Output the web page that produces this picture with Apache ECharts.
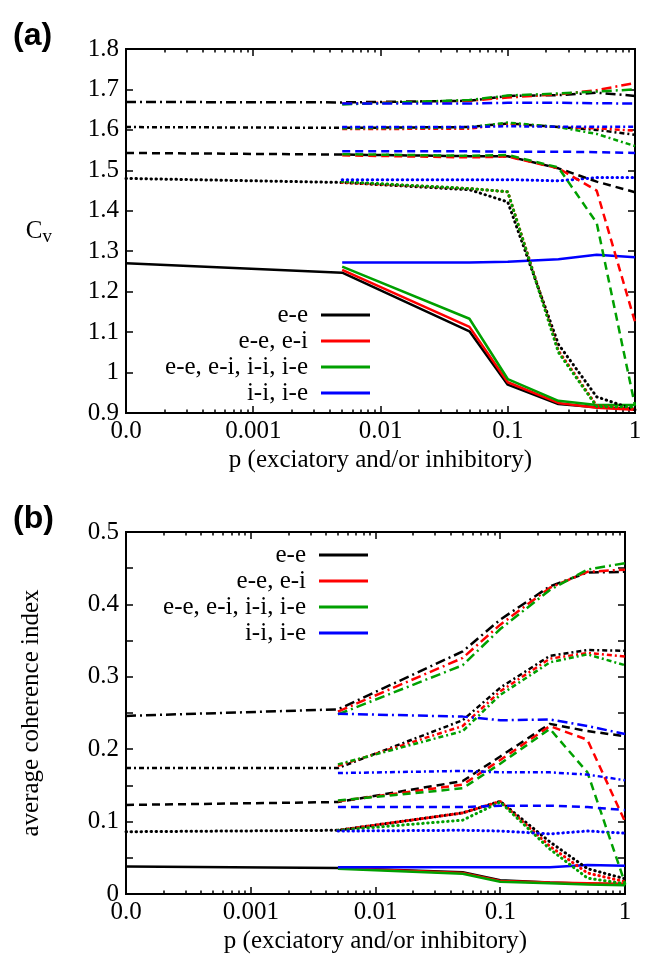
<!DOCTYPE html>
<html>
<head>
<meta charset="utf-8">
<script src="https://cdn.jsdelivr.net/npm/echarts@6/dist/echarts.min.js"></script>
<style>
  html, body { margin: 0; padding: 0; background: #fff; }
  #chart { width: 645px; height: 955px; }
</style>
</head>
<body>
<div id="chart"></div>
<script>
// p values; the first one (1e-4) is the p = 0 point that sits under the "0.0" label
var pPoints = [1e-4, 0.005, 0.05, 0.1, 0.25, 0.5, 1];
var xTickValues = [1e-4, 1e-3, 1e-2, 1e-1, 1];
var legendNames = ['e-e', 'e-e, e-i', 'e-e, e-i, i-i, i-e', 'i-i, i-e'];
var lineColors = ['#000000', '#ff0000', '#00a000', '#0000ff'];

// each block: rows in legend order (e-e / e-e,e-i / all four / i-i,i-e)
// (a) coefficient of variation
var cvSolid = [
  [1.270, 1.247, 1.102, 0.970, 0.922, 0.914, 0.910],
  [null, 1.254, 1.113, 0.976, 0.925, 0.913, 0.908],
  [null, 1.262, 1.133, 0.984, 0.930, 0.920, 0.920],
  [null, 1.272, 1.272, 1.274, 1.280, 1.291, 1.285]
];
var cvDotted = [
  [1.480, 1.470, 1.452, 1.422, 1.070, 0.940, 0.908],
  [null, 1.470, 1.455, 1.447, 1.054, 0.918, 0.910],
  [null, 1.472, 1.455, 1.447, 1.050, 0.916, 0.915],
  [null, 1.477, 1.477, 1.477, 1.474, 1.482, 1.482]
];
var cvDashed = [
  [1.543, 1.539, 1.535, 1.535, 1.505, 1.472, 1.446],
  [null, 1.537, 1.532, 1.534, 1.505, 1.450, 1.125],
  [null, 1.540, 1.536, 1.538, 1.507, 1.370, 0.918],
  [null, 1.547, 1.547, 1.546, 1.546, 1.545, 1.543]
];
var cvDashDot = [
  [1.607, 1.605, 1.607, 1.616, 1.607, 1.600, 1.588],
  [null, 1.602, 1.603, 1.615, 1.607, 1.604, 1.598],
  [null, 1.604, 1.606, 1.618, 1.607, 1.590, 1.560],
  [null, 1.607, 1.607, 1.609, 1.608, 1.608, 1.608]
];
var cvLongDashDot = [
  [1.669, 1.668, 1.672, 1.684, 1.686, 1.692, 1.684],
  [null, 1.665, 1.672, 1.680, 1.688, 1.698, 1.716],
  [null, 1.663, 1.674, 1.685, 1.690, 1.695, 1.700],
  [null, 1.665, 1.665, 1.667, 1.667, 1.666, 1.665]
];

// (b) average coherence index
var chSolid = [
  [0.038, 0.036, 0.030, 0.019, 0.016, 0.014, 0.013],
  [null, 0.036, 0.029, 0.018, 0.016, 0.015, 0.014],
  [null, 0.035, 0.028, 0.017, 0.015, 0.013, 0.012],
  [null, 0.037, 0.037, 0.037, 0.037, 0.040, 0.039]
];
var chDotted = [
  [0.086, 0.088, 0.112, 0.128, 0.072, 0.035, 0.021],
  [null, 0.088, 0.112, 0.128, 0.066, 0.029, 0.017],
  [null, 0.088, 0.102, 0.127, 0.062, 0.022, 0.014],
  [null, 0.087, 0.088, 0.087, 0.083, 0.087, 0.084]
];
var chDashed = [
  [0.123, 0.127, 0.156, 0.190, 0.235, 0.225, 0.218],
  [null, 0.128, 0.151, 0.185, 0.232, 0.213, 0.100],
  [null, 0.129, 0.146, 0.180, 0.228, 0.168, 0.015],
  [null, 0.120, 0.120, 0.122, 0.122, 0.120, 0.116]
];
var chDashDot = [
  [0.174, 0.174, 0.240, 0.285, 0.329, 0.337, 0.336],
  [null, 0.177, 0.232, 0.280, 0.325, 0.333, 0.328],
  [null, 0.179, 0.225, 0.275, 0.320, 0.331, 0.316],
  [null, 0.167, 0.170, 0.168, 0.168, 0.165, 0.157]
];
var chLongDashDot = [
  [0.246, 0.255, 0.335, 0.379, 0.425, 0.444, 0.445],
  [null, 0.252, 0.326, 0.372, 0.423, 0.445, 0.448],
  [null, 0.248, 0.316, 0.366, 0.420, 0.448, 0.457],
  [null, 0.249, 0.245, 0.240, 0.241, 0.232, 0.221]
];

var dashTypes = {
  solid: { type: 'solid', cap: 'butt', width: 2.5 },
  dotted: { type: [0.5, 4.5], cap: 'round', width: 3 },
  dashed: { type: [8, 5], cap: 'butt', width: 2.5 },
  dashDot: { type: [5, 3, 2, 3], cap: 'butt', width: 2.5 },
  longDashDot: { type: [10, 4, 2, 4], cap: 'butt', width: 2.5 }
};

var serif = 'Liberation Serif';
var black = '#000';

// minor ticks 2..9 in every decade
var xMinorTicks = [];
for (var d = -4; d < 0; d++) {
  for (var m = 2; m < 10; m++) xMinorTicks.push(+(m * Math.pow(10, d)).toPrecision(3));
}

function xAxes(gi) {
  var base = {
    type: 'log', logBase: 10, min: 1e-4, max: 1, gridIndex: gi,
    splitLine: { show: false },
    axisLine: { show: true, lineStyle: { color: black, width: 2 } }
  };
  var tick = function (vals, len) {
    return { show: true, inside: true, length: len, customValues: vals, lineStyle: { color: black, width: 1.5 } };
  };
  return [
    Object.assign({}, base, {
      position: 'bottom',
      name: 'p (exciatory and/or inhibitory)',
      nameLocation: 'middle', nameGap: 35,
      nameTextStyle: { fontFamily: serif, fontSize: 25, color: black },
      axisTick: tick(xTickValues, 7),
      axisLabel: {
        customValues: xTickValues, margin: 6,
        fontFamily: serif, fontSize: 25, color: black,
        formatter: function (v) { return v < 5e-4 ? '0.0' : String(+v.toPrecision(3)); }
      }
    }),
    Object.assign({}, base, { position: 'bottom', axisTick: tick(xMinorTicks, 3.5), axisLabel: { show: false } }),
    Object.assign({}, base, { position: 'top', axisTick: tick(xTickValues, 7), axisLabel: { show: false } }),
    Object.assign({}, base, { position: 'top', axisTick: tick(xMinorTicks, 3.5), axisLabel: { show: false } })
  ];
}

function yAxes(gi, min, max, interval, labelFmt, nameOpts) {
  var base = {
    type: 'value', gridIndex: gi, min: min, max: max, interval: interval,
    splitLine: { show: false },
    axisLine: { show: true, lineStyle: { color: black, width: 2 } },
    axisTick: { show: true, inside: true, length: 7, lineStyle: { color: black, width: 1.5 } }
  };
  return [
    Object.assign({}, base, {
      position: 'left',
      axisLabel: { margin: 7, fontFamily: serif, fontSize: 25, color: black, formatter: labelFmt }
    }, nameOpts),
    Object.assign({}, base, { position: 'right', axisLabel: { show: false } })
  ];
}

function buildSeries(gi, blocks) {
  var out = [];
  blocks.forEach(function (blk) {
    var st = dashTypes[blk.style];
    blk.rows.forEach(function (vals, c) {
      var data = [];
      vals.forEach(function (v, k) { if (v !== null) data.push([pPoints[k], v]); });
      out.push({
        type: 'line',
        name: blk.style === 'solid' ? legendNames[c] : legendNames[c] + ' (' + blk.style + ')',
        xAxisIndex: gi * 4, yAxisIndex: gi * 2,
        data: data,
        symbol: 'none',
        lineStyle: { color: lineColors[c], width: st.width, type: st.type, cap: st.cap },
        itemStyle: { color: lineColors[c] },
        emphasis: { disabled: true }
      });
    });
  });
  return out;
}

var series = buildSeries(0, [
  { style: 'solid', rows: cvSolid },
  { style: 'dotted', rows: cvDotted },
  { style: 'dashed', rows: cvDashed },
  { style: 'dashDot', rows: cvDashDot },
  { style: 'longDashDot', rows: cvLongDashDot }
]).concat(buildSeries(1, [
  { style: 'solid', rows: chSolid },
  { style: 'dotted', rows: chDotted },
  { style: 'dashed', rows: chDashed },
  { style: 'dashDot', rows: chDashDot },
  { style: 'longDashDot', rows: chLongDashDot }
]));

function legendAt(right, top) {
  return {
    data: legendNames, orient: 'vertical', align: 'right',
    right: right, top: top, padding: 0,
    icon: 'rect', itemWidth: 49, itemHeight: 3, itemGap: 0,
    selectedMode: false,
    textStyle: { fontFamily: serif, fontSize: 25, color: black, lineHeight: 26, padding: [0, 8, 0, 0] }
  };
}

var chart = echarts.init(document.getElementById('chart'), null, { renderer: 'canvas' });
chart.setOption({
  animation: false,
  backgroundColor: '#fff',
  title: [
    { text: '(a)', left: 13, top: 20, padding: 0,
      textStyle: { fontFamily: 'Liberation Sans', fontWeight: 'bold', fontSize: 32, color: black } },
    { text: '(b)', left: 13, top: 503, padding: 0,
      textStyle: { fontFamily: 'Liberation Sans', fontWeight: 'bold', fontSize: 32, color: black } }
  ],
  legend: [legendAt(275, 302), legendAt(277, 542)],
  grid: [
    { left: 126, top: 49, width: 509, height: 364 },
    { left: 126, top: 532, width: 499, height: 365 }
  ],
  xAxis: xAxes(0).concat(xAxes(1)),
  yAxis: yAxes(0, 0.9, 1.8, 0.1, null, {
    name: '{c|C}{v|v}', nameLocation: 'middle', nameRotate: 0, nameGap: 74,
    nameTextStyle: {
      color: black,
      rich: {
        c: { fontFamily: serif, fontSize: 25, color: black },
        v: { fontFamily: serif, fontSize: 19, color: black, padding: [12, 0, 0, 0] }
      }
    }
  }).concat(yAxes(1, 0, 0.5, 0.05, function (v) {
    return Math.abs(v * 10 - Math.round(v * 10)) < 1e-6 ? String(+v.toFixed(1)) : '';
  }, {
    name: 'average coherence index', nameLocation: 'middle', nameRotate: 90, nameGap: 82,
    nameTextStyle: { fontFamily: serif, fontSize: 25, color: black }
  })),
  series: series
});
</script>
</body>
</html>
